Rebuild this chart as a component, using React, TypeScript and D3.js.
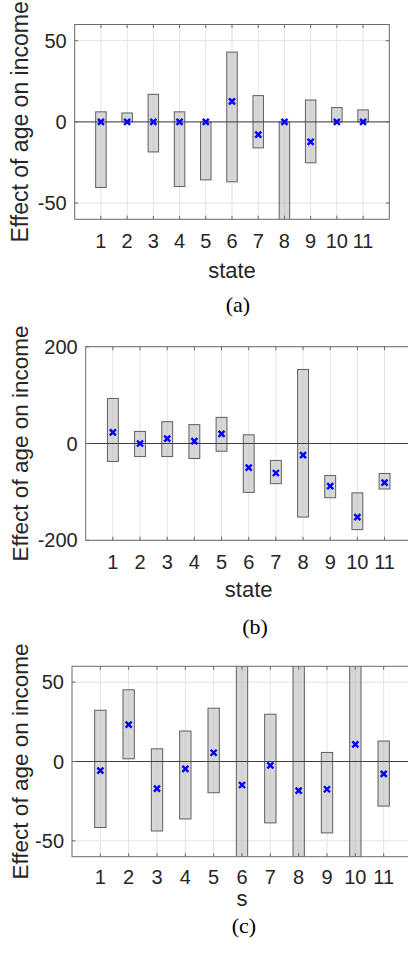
import React from "react";
import * as d3 from "d3";

const width = 408;
const height = 957;

// x categories shared by the three panels
const states = [1, 2, 3, 4, 5, 6, 7, 8, 9, 10, 11];

// panel (a)
const lowA = [-40.4, 0, -18.5, -39.8, -35.7, -36.9, -16, -95, -25.2, 0, 0];
const highA = [6.2, 5.5, 17, 6.2, 0, 43, 16.2, 0, 13.5, 8.8, 7.4];
const estA = [0, 0, 0, 0, 0, 12.7, -7.8, 0, -12.3, 0, 0];

// panel (b)
const lowB = [-37, -27, -27, -31, -16, -101, -83, -152, -112, -178, -94];
const highB = [93, 25, 45, 39, 54, 18, -35, 153, -66, -102, -62];
const estB = [23, 0, 10, 5, 20, -50, -61, -24, -88, -152, -81];

// panel (c)
const lowC = [-41.6, 1.7, -43.8, -36.2, -19.7, -95, -38.7, -100, -45, -75, -28.1];
const highC = [32.3, 45.2, 8, 19.2, 33.6, 65, 29.8, 64, 5.7, 97, 12.9];
const estC = [-5.7, 23.3, -17.1, -4.7, 5.5, -14.8, -2.5, -18.4, -17.5, 10.8, -7.8];

const yTicksSmall = [-50, 0, 50];
const yTicksLarge = [-200, 0, 200];

const panels = [
  {
    id: "a", low: lowA, high: highA, est: estA, yDomain: [-60, 60], yTicks: yTicksSmall,
    xLabel: "state", caption: "(a)",
    left: 74.7, right: 389.3, top: 24.5, bottom: 219.3,
    tickBase: 247.7, labelBase: 278, capX: 238, capBase: 312, yLabelSize: 23,
  },
  {
    id: "b", low: lowB, high: highB, est: estB, yDomain: [-200, 200], yTicks: yTicksLarge,
    xLabel: "state", caption: "(b)",
    left: 85.7, right: 411.7, top: 346.7, bottom: 540.3,
    tickBase: 569.3, labelBase: 596.7, capX: 255, capBase: 634, yLabelSize: 22.5,
  },
  {
    id: "c", low: lowC, high: highC, est: estC, yDomain: [-60, 60], yTicks: yTicksSmall,
    xLabel: "s", caption: "(c)",
    left: 72, right: 412, top: 666.3, bottom: 856.7,
    tickBase: 883.5, labelBase: 906, capX: 244, capBase: 933, yLabelSize: 22.5,
  },
];

const sans = "'Liberation Sans', Arial, Helvetica, sans-serif";
const serif = "'Liberation Serif', 'Times New Roman', serif";
const axisColor = "#6a6a6a";

function Panel({ p }) {
  const x = d3.scaleLinear().domain([0, 12]).range([p.left, p.right]);
  const y = d3.scaleLinear().domain(p.yDomain).range([p.bottom, p.top]);
  const bw = x(0.4) - x(0);
  const cy = (p.top + p.bottom) / 2;
  const clipId = `clip-${p.id}`;
  const tickLen = 3.5;

  return (
    <g>
      <defs>
        <clipPath id={clipId}>
          <rect x={p.left} y={p.top} width={p.right - p.left} height={p.bottom - p.top} />
        </clipPath>
      </defs>
      {/* grid */}
      {states.map(s => (
        <line key={`gx${s}`} x1={x(s)} x2={x(s)} y1={p.top} y2={p.bottom} stroke="#e3e3e3" strokeWidth={1} />
      ))}
      {p.yTicks.map(t => (
        <line key={`gy${t}`} x1={p.left} x2={p.right} y1={y(t)} y2={y(t)} stroke="#e3e3e3" strokeWidth={1} />
      ))}
      <g clipPath={`url(#${clipId})`}>
        {states.map((s, i) => (
          <rect
            key={`bar${s}`}
            x={x(s) - bw / 2}
            y={y(p.high[i])}
            width={bw}
            height={y(p.low[i]) - y(p.high[i])}
            fill="#bdbdbd"
            fillOpacity={0.6}
            stroke="#5f5f5f"
            strokeWidth={1}
          />
        ))}
        <line x1={p.left} x2={p.right} y1={y(0)} y2={y(0)} stroke="#404040" strokeWidth={1} />
      </g>
      {/* box and ticks */}
      <rect x={p.left} y={p.top} width={p.right - p.left} height={p.bottom - p.top} fill="none" stroke={axisColor} strokeWidth={1} />
      {states.map(s => (
        <g key={`tk${s}`}>
          <line x1={x(s)} x2={x(s)} y1={p.bottom} y2={p.bottom - tickLen} stroke={axisColor} />
          <line x1={x(s)} x2={x(s)} y1={p.top} y2={p.top + tickLen} stroke={axisColor} />
        </g>
      ))}
      {p.yTicks.map(t => (
        <g key={`ty${t}`}>
          <line x1={p.left} x2={p.left + tickLen} y1={y(t)} y2={y(t)} stroke={axisColor} />
          <line x1={p.right} x2={p.right - tickLen} y1={y(t)} y2={y(t)} stroke={axisColor} />
        </g>
      ))}
      {/* estimates */}
      {states.map((s, i) => {
        const px = x(s);
        const py = y(p.est[i]);
        const r = 3;
        return (
          <path
            key={`m${s}`}
            d={`M${px - r},${py - r}L${px + r},${py + r}M${px - r},${py + r}L${px + r},${py - r}`}
            stroke="#0000ff"
            strokeWidth={2.4}
            fill="none"
          />
        );
      })}
      {/* labels */}
      {p.yTicks.map(t => (
        <text key={`yl${t}`} x={p.left - 8} y={y(t)} dy="0.35em" textAnchor="end" fontFamily={sans} fontSize={20} fill="#262626">
          {t}
        </text>
      ))}
      {states.map(s => (
        <text key={`xl${s}`} x={x(s)} y={p.tickBase} textAnchor="middle" fontFamily={sans} fontSize={20} fill="#262626">
          {s}
        </text>
      ))}
      <text x={(p.left + p.right) / 2} y={p.labelBase} textAnchor="middle" fontFamily={sans} fontSize={22} fill="#262626">
        {p.xLabel}
      </text>
      <text transform={`translate(28, ${cy}) rotate(-90)`} textAnchor="middle" fontFamily={sans} fontSize={p.yLabelSize} fill="#262626">
        Effect of age on income
      </text>
      <text x={p.capX} y={p.capBase} textAnchor="middle" fontFamily={serif} fontSize={22} fill="#000">
        {p.caption}
      </text>
    </g>
  );
}

export default function App() {
  return (
    <svg width={width} height={height} style={{ position: "absolute", left: 0, top: 0, background: "#fff" }}>
      <rect width={width} height={height} fill="#fff" />
      {panels.map(p => (
        <Panel key={p.id} p={p} />
      ))}
    </svg>
  );
}
